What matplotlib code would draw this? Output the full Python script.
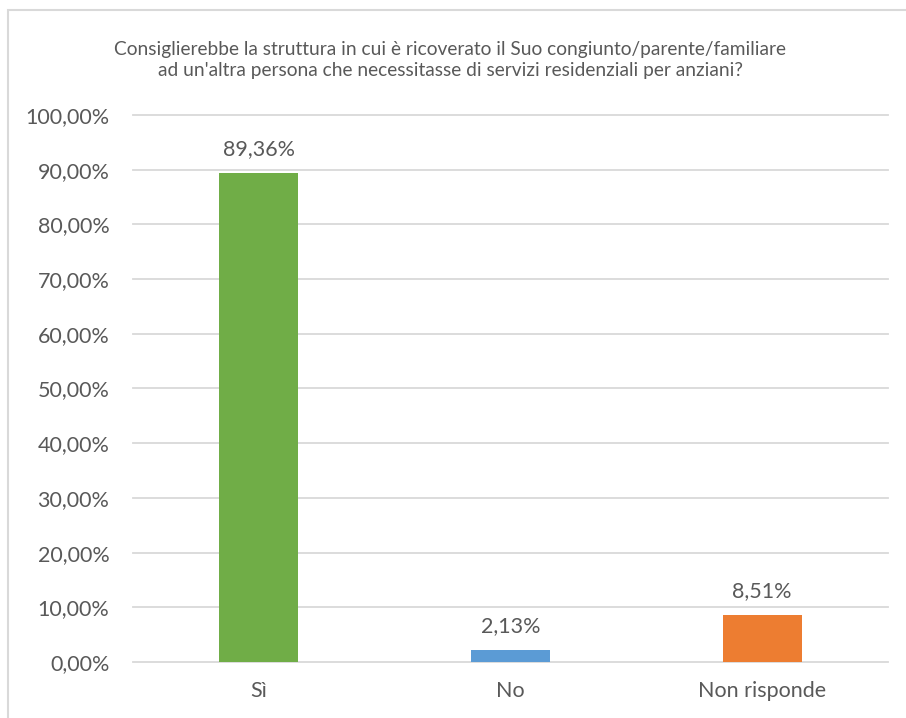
import matplotlib
matplotlib.use("Agg")
import matplotlib.pyplot as plt
from matplotlib.patches import Rectangle

plt.rcParams["font.family"] = ["Lato", "DejaVu Sans"]

categories = ["Sì", "No", "Non risponde"]
values = [0.8936, 0.0213, 0.0851]
bar_colors = ["#70AD47", "#5B9BD5", "#ED7D31"]
yticks = [i / 10 for i in range(11)]
title = ("Consiglierebbe la struttura in cui è ricoverato il Suo congiunto/parente/familiare\n"
         "ad un'altra persona che necessitasse di servizi residenziali per anziani?")

text_col = "#595959"
grid_col = "#D9D9D9"


def pct(v):
    return f"{v * 100:.2f}%".replace(".", ",")


fig = plt.figure(figsize=(9.06, 7.18), dpi=100)

# chart frame (light grey, runs off the right/bottom edge)
fig.patches.append(Rectangle((8 / 906, -0.1), 1.2, 1 - 10 / 718 + 0.1,
                             transform=fig.transFigure, fill=False,
                             edgecolor="#D9D9D9", linewidth=1.5))

ax = fig.add_axes([133 / 906, 1 - 662 / 718, 755 / 906, 547 / 718])
x = range(len(categories))
bars = ax.bar(x, values, width=0.315, color=bar_colors, zorder=3)

ax.set_xlim(-0.5, 2.5)
ax.set_ylim(0, 1.0)
ax.set_yticks(yticks)
ax.set_yticklabels([pct(t) for t in yticks], fontsize=15.5, color=text_col)
ax.set_xticks(list(x))
ax.set_xticklabels(categories, fontsize=15.5, color=text_col)
ax.tick_params(length=0, axis="y", pad=17)
ax.tick_params(length=0, axis="x", pad=14)
for s in ax.spines.values():
    s.set_visible(False)
for t in yticks:
    ax.axhline(t, color=grid_col, linewidth=1.3, zorder=0, clip_on=False)

for b, v in zip(bars, values):
    ax.annotate(pct(v), (b.get_x() + b.get_width() / 2, v), xytext=(0, 10),
                textcoords="offset points", ha="center", va="bottom",
                fontsize=15.5, color=text_col)

fig.text(450 / 906, 1 - 60 / 718, title, ha="center", va="center",
         fontsize=13.8, color=text_col, linespacing=1.35)

fig.savefig("out.png", dpi=100)
